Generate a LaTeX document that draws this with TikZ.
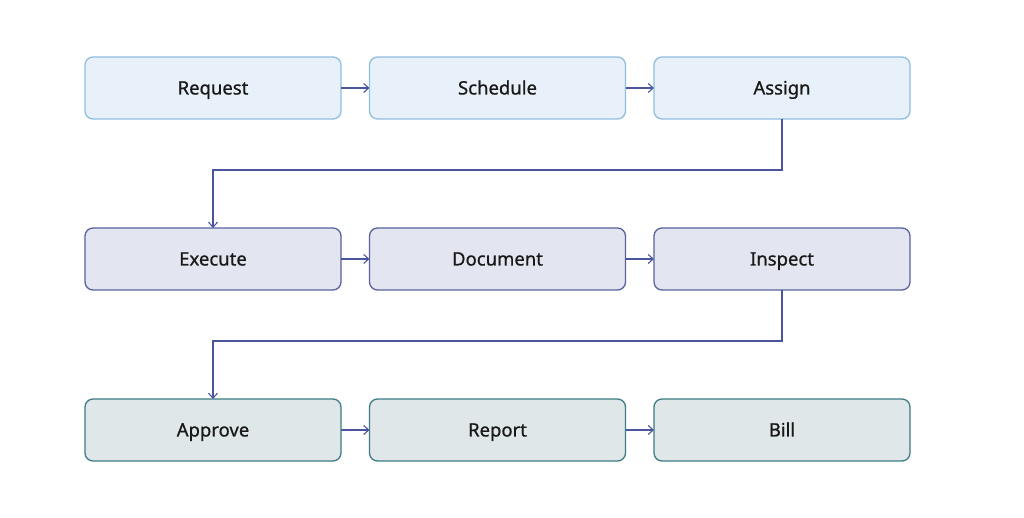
\documentclass[tikz,border=0pt]{standalone}
\usepackage{fontspec}
\setmainfont{Noto Sans}
\newfontfamily\labelfont{Noto Sans}[FakeBold=0.8]
\usetikzlibrary{arrows.meta}
\usetikzlibrary{positioning}
\definecolor{lblue}{HTML}{E8F1F9}
\definecolor{lblueline}{HTML}{8FBDE0}
\definecolor{lslate}{HTML}{E3E5F0}
\definecolor{lslateline}{HTML}{59619F}
\definecolor{lteal}{HTML}{DFE7E9}
\definecolor{ltealline}{HTML}{3F7B86}
\definecolor{arrblue}{HTML}{4A559E}
\tikzset{box/.style = {rounded corners = 8pt, line width = 1.3pt, outer sep = 0pt,
                       minimum width = 256pt, minimum height = 62pt,
                       text height = 16pt, text depth = 3pt,
                       font = \labelfont\fontsize{18.5}{22}\selectfont, text = black!90}}
\tikzset{plan/.style = {box, fill = lblue, draw = lblueline}}
\tikzset{work/.style = {box, fill = lslate, draw = lslateline}}
\tikzset{close/.style = {box, fill = lteal, draw = ltealline}}
\tikzset{arr/.style = {arrblue, line width = 1.1pt,
                       -{Straight Barb[length=5pt, width=9pt, line width=1.1pt]}}}

\begin{document}
\begin{tikzpicture}
    \useasboundingbox (0, 0) rectangle (1024pt, 518pt);

    \node [plan] (request) at (213pt, 430pt) {Request};
    \node [plan, right = 28.5pt of request] (schedule) {Schedule};
    \node [plan, right = 28.5pt of schedule] (assign) {Assign};

    \node [work, below = 109pt of request] (execute) {Execute};
    \node [work, right = 28.5pt of execute] (document) {Document};
    \node [work, right = 28.5pt of document] (inspect) {Inspect};

    \node [close, below = 109pt of execute] (approve) {Approve};
    \node [close, right = 28.5pt of approve] (report) {Report};
    \node [close, right = 28.5pt of report] (bill) {Bill};

    \draw [arr] (request) -- (schedule);
    \draw [arr] (schedule) -- (assign);
    \draw [arr] (execute) -- (document);
    \draw [arr] (document) -- (inspect);
    \draw [arr] (approve) -- (report);
    \draw [arr] (report) -- (bill);

    \draw [arr] (assign.south) -- ++(0, -51pt) -| (execute.north);
    \draw [arr] (inspect.south) -- ++(0, -51pt) -| (approve.north);
\end{tikzpicture}
\end{document}
